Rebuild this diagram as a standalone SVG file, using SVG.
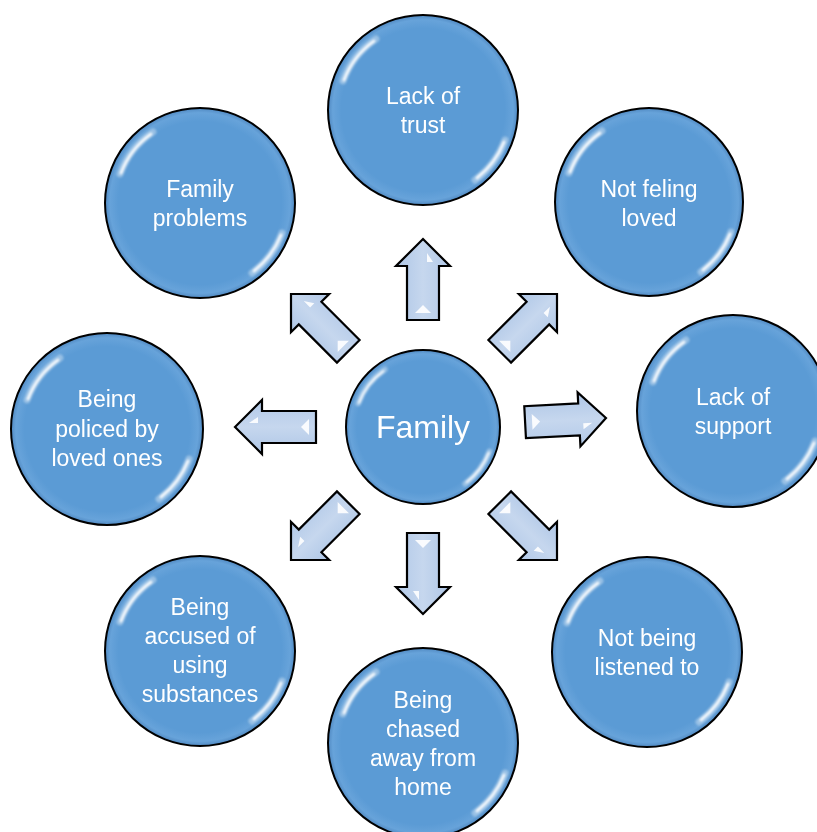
<svg xmlns="http://www.w3.org/2000/svg" xmlns:xlink="http://www.w3.org/1999/xlink" width="817" height="832" viewBox="0 0 817 832">
<style>
.node circle.body{fill:url(#ballGrad);stroke:#000;stroke-width:2}
.node text{font-family:"Liberation Sans",Arial,sans-serif;font-size:23px;fill:#fff;text-anchor:middle}
.node text.big{font-size:32px}
.arrow path.shape{fill:url(#arrowGrad);stroke:#000;stroke-width:2.2;stroke-linejoin:miter}
.arrow path.hl{fill:#fff;opacity:0.9}
.gloss path{fill:none;stroke:#fff;stroke-linecap:round}
.gloss path.glow{stroke-width:7;opacity:0.35}
.gloss path.line{stroke-width:3;opacity:0.9}
</style>
<defs>
<radialGradient id="ballGrad" cx="0.5" cy="0.5" r="0.5">
<stop offset="0" stop-color="#5b9bd5"/>
<stop offset="0.86" stop-color="#5b9bd5"/>
<stop offset="0.95" stop-color="#67a3da"/>
<stop offset="1" stop-color="#5089c2"/>
</radialGradient>
<linearGradient id="arrowGrad" x1="0" y1="0" x2="1" y2="0">
<stop offset="0" stop-color="#aec6e6"/>
<stop offset="0.5" stop-color="#c6d7ee"/>
<stop offset="1" stop-color="#b2c9e8"/>
</linearGradient>
<filter id="soft" x="-20%" y="-20%" width="140%" height="140%">
<feGaussianBlur stdDeviation="1.2"/>
</filter>
<g id="gloss" class="gloss" filter="url(#soft)">
<path class="glow" d="M -80 -29 A 85 85 0 0 1 -47 -71"/>
<path class="glow" d="M 82 30 A 87 87 0 0 1 52 70"/>
<path class="line" d="M -79 -30 A 85 85 0 0 1 -49 -69"/>
<path class="line" d="M 81 32 A 87 87 0 0 1 54 68"/>
</g>
<g id="arr" class="arrow">
<path class="shape" d="M 0 0 L 27 27 L 16 27 L 16 81 L -16 81 L -16 27 L -27 27 Z"/>
<path class="hl" d="M 4 14 L 10 23 L 4 23 Z"/>
<path class="hl" d="M 0 66 L 8 74 L -8 74 Z"/>
</g>
</defs>
<rect width="817" height="832" fill="#fff"/>

<g id="connectors">
<use xlink:href="#arr" transform="translate(423 239)"/>
<use xlink:href="#arr" transform="translate(557 294) rotate(45)"/>
<use xlink:href="#arr" transform="translate(606 418) rotate(87)"/>
<use xlink:href="#arr" transform="translate(557 560) rotate(135)"/>
<use xlink:href="#arr" transform="translate(423 614) rotate(180)"/>
<use xlink:href="#arr" transform="translate(291 560) rotate(225)"/>
<use xlink:href="#arr" transform="translate(235 427) rotate(270)"/>
<use xlink:href="#arr" transform="translate(291 294) rotate(315)"/>
</g>

<g id="node-family" class="node">
<circle class="body" cx="423" cy="427" r="77"/>
<use xlink:href="#gloss" transform="translate(423 427) scale(0.81)"/>
<text class="big" x="423" y="438">Family</text>
</g>

<g id="node-trust" class="node">
<circle class="body" cx="423" cy="110" r="95"/>
<use xlink:href="#gloss" transform="translate(423 110)"/>
<text x="423" y="104">Lack of</text>
<text x="423" y="133">trust</text>
</g>

<g id="node-loved" class="node">
<circle class="body" cx="649" cy="202" r="94"/>
<use xlink:href="#gloss" transform="translate(649 202)"/>
<text x="649" y="197">Not feling</text>
<text x="649" y="226">loved</text>
</g>

<g id="node-support" class="node">
<circle class="body" cx="733" cy="411" r="96"/>
<use xlink:href="#gloss" transform="translate(733 411)"/>
<text x="733" y="405">Lack of</text>
<text x="733" y="434">support</text>
</g>

<g id="node-listened" class="node">
<circle class="body" cx="647" cy="652" r="95"/>
<use xlink:href="#gloss" transform="translate(647 652)"/>
<text x="647" y="646">Not being</text>
<text x="647" y="675">listened to</text>
</g>

<g id="node-chased" class="node">
<circle class="body" cx="423" cy="743" r="95"/>
<use xlink:href="#gloss" transform="translate(423 743)"/>
<text x="423" y="708">Being</text>
<text x="423" y="737">chased</text>
<text x="423" y="766">away from</text>
<text x="423" y="795">home</text>
</g>

<g id="node-accused" class="node">
<circle class="body" cx="200" cy="651" r="95"/>
<use xlink:href="#gloss" transform="translate(200 651)"/>
<text x="200" y="615">Being</text>
<text x="200" y="644">accused of</text>
<text x="200" y="673">using</text>
<text x="200" y="702">substances</text>
</g>

<g id="node-policed" class="node">
<circle class="body" cx="107" cy="429" r="96"/>
<use xlink:href="#gloss" transform="translate(107 429)"/>
<text x="107" y="407">Being</text>
<text x="107" y="437">policed by</text>
<text x="107" y="466">loved ones</text>
</g>

<g id="node-problems" class="node">
<circle class="body" cx="200" cy="203" r="95"/>
<use xlink:href="#gloss" transform="translate(200 203)"/>
<text x="200" y="197">Family</text>
<text x="200" y="226">problems</text>
</g>
</svg>
